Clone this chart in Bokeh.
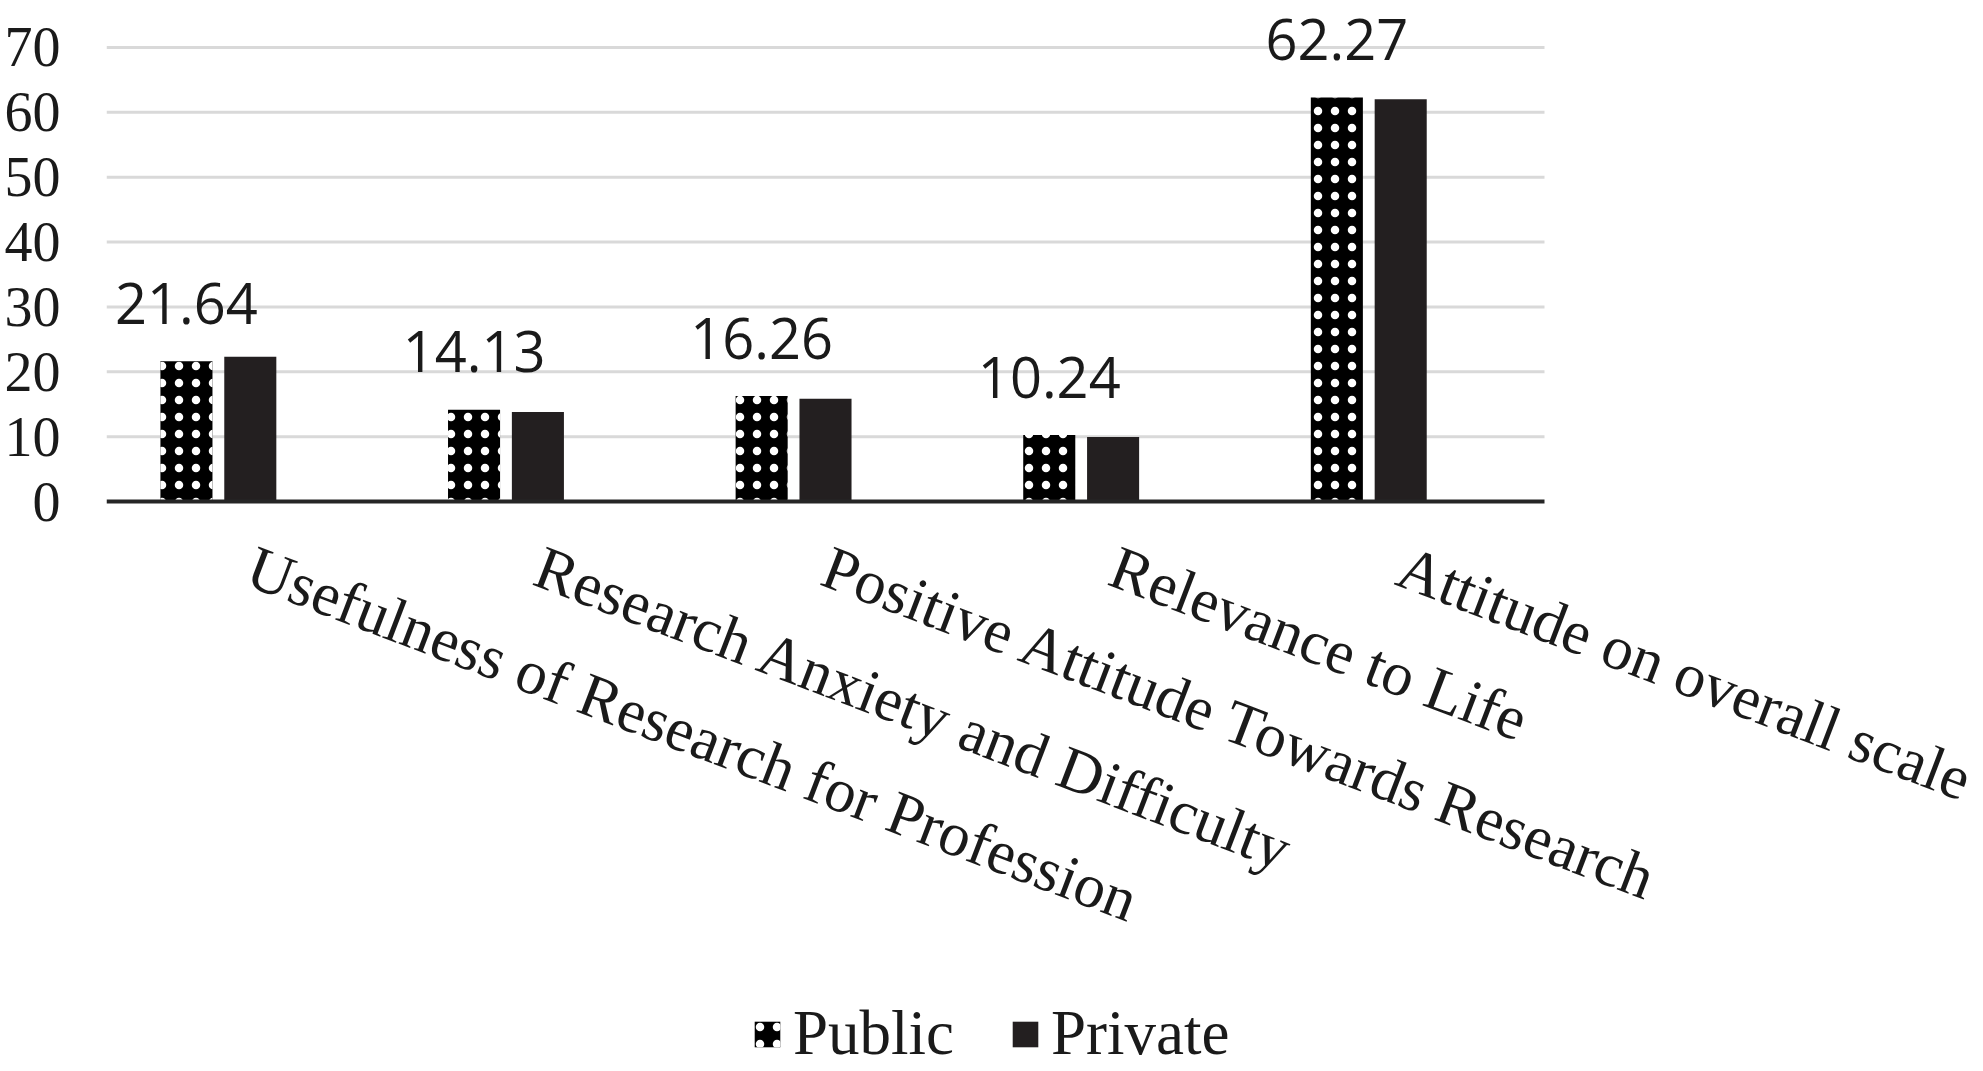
import numpy as np
from bokeh.plotting import figure
from bokeh.models import ColumnDataSource, FixedTicker, Legend, LegendItem, Range1d
from bokeh.core.properties import value
from bokeh.embed import file_html
from bokeh.resources import INLINE

categories = [
    "Usefulness of Research for Profession",
    "Research Anxiety and Difficulty",
    "Positive Attitude Towards Research",
    "Relevance to Life",
    "Attitude on overall scale",
]
public = [21.64, 14.13, 16.26, 10.24, 62.27]
private = [22.3, 13.8, 15.85, 9.95, 62.0]
y_ticks = [0, 10, 20, 30, 40, 50, 60, 70]

pos = np.arange(len(categories))
bar_w = 0.181
step = 0.222   # public bar sits one slot left of the category centre
x_lo, x_hi = -0.5, len(categories) - 0.5

src = ColumnDataSource(dict(
    x=pos,
    x_pub=pos - step,
    x_priv=pos,
    public=public,
    private=private,
    zero=[0] * len(categories),
    cat=categories,
    lbl=["%.2f" % v for v in public],
))

# the frame runs under the category labels and the legend so that neither is clipped
W, H = 1980, 1070
left, px_per_cat, y0_px, px_per_unit = 106, 287.6, 501, 6.486
p = figure(width=W, height=H, output_backend="svg", toolbar_location=None,
           x_range=Range1d(x_lo, x_lo + (W - left) / px_per_cat),
           y_range=Range1d(-(H - y0_px) / px_per_unit, y0_px / px_per_unit),
           min_border_left=left, min_border_top=0, min_border_right=0, min_border_bottom=0)
p.outline_line_color = None
p.background_fill_color = "white"
p.grid.grid_line_color = None
p.xaxis.visible = False

# horizontal gridlines over the category span only
p.segment(x0=x_lo, x1=x_hi, y0=y_ticks[1:], y1=y_ticks[1:], line_color="#d9d9d9", line_width=3)

pub = p.vbar(x="x_pub", top="public", width=bar_w, source=src,
             fill_color="black", line_color=None,
             hatch_pattern="dot", hatch_color="white", hatch_scale=17, hatch_weight=6)
priv = p.vbar(x="x_priv", top="private", width=bar_w, source=src,
              fill_color="#231f20", line_color=None)

# category axis line
p.segment(x0=x_lo, x1=x_hi, y0=0, y1=0, line_color="#262626", line_width=4)

p.text(x="x_pub", y="public", text="lbl", source=src, text_align="center",
       text_baseline="alphabetic", y_offset=-58, text_font=value("Open Sans"),
       text_font_size="56px", text_color="#1a1a1a")

p.text(x="x", y="zero", text="cat", source=src, angle=-0.365, text_align="left",
       text_baseline="middle", y_offset=63, text_font=value("Liberation Serif"),
       text_font_size="62px", text_color="#1a1a1a")

yax = p.yaxis[0]
yax.ticker = FixedTicker(ticks=y_ticks)
yax.major_label_text_font = "Liberation Serif"
yax.major_label_text_font_size = "56px"
yax.major_label_text_color = "#1a1a1a"
yax.major_label_standoff = 40
yax.axis_line_color = None
yax.major_tick_line_color = None
yax.minor_tick_line_color = None

legend = Legend(items=[LegendItem(label="Public", renderers=[pub]),
                       LegendItem(label="Private", renderers=[priv])],
                orientation="horizontal", location=(645, 0),
                border_line_color=None, background_fill_alpha=0,
                label_text_font="Liberation Serif", label_text_font_size="63px",
                label_text_color="#1a1a1a",
                glyph_width=32, glyph_height=32, label_standoff=10, spacing=55,
                padding=0, margin=0)
p.add_layout(legend)

open("out.html", "w").write(file_html(p, INLINE))
